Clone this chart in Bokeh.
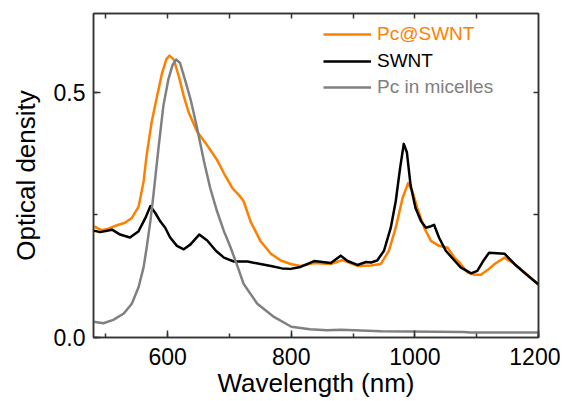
from bokeh.plotting import figure
from bokeh.models import (LinearAxis, SingleIntervalTicker, FixedTicker, Range1d, Legend,
                          LegendItem, PrintfTickFormatter)
from bokeh.embed import file_html
from bokeh.resources import INLINE

# Pc@SWNT
pcswnt_x = [480, 493, 504, 518, 531, 542, 553, 561, 566, 574, 583, 591, 598, 603, 610, 618, 626, 634, 642, 648,
            664, 680, 691, 705, 715, 723, 734, 750, 767, 783, 799, 815, 837, 864, 883, 907, 929, 945, 958, 969,
            980, 989, 996, 1004, 1015, 1026, 1039, 1053, 1064, 1074, 1085, 1097, 1107, 1118, 1129, 1145, 1161,
            1180, 1200]
pcswnt_y = [0.227, 0.219, 0.222, 0.229, 0.234, 0.244, 0.267, 0.318, 0.372, 0.439, 0.493, 0.540, 0.568, 0.575,
            0.567, 0.533, 0.493, 0.459, 0.436, 0.419, 0.392, 0.362, 0.335, 0.304, 0.291, 0.278, 0.237, 0.197,
            0.171, 0.157, 0.150, 0.146, 0.152, 0.150, 0.158, 0.146, 0.147, 0.150, 0.177, 0.224, 0.284, 0.315,
            0.298, 0.264, 0.224, 0.197, 0.187, 0.183, 0.163, 0.150, 0.133, 0.128, 0.128, 0.138, 0.150, 0.163,
            0.150, 0.130, 0.108]

# SWNT
swnt_x = [480, 491, 510, 523, 539, 553, 564, 572, 580, 588, 596, 604, 615, 626, 637, 651, 664, 678, 691, 707,
          729, 750, 767, 785, 799, 815, 837, 864, 880, 891, 907, 921, 929, 939, 950, 961, 969, 976, 982, 987,
          993, 1001, 1010, 1018, 1026, 1031, 1039, 1050, 1064, 1074, 1091, 1101, 1110, 1120, 1145, 1161, 1180,
          1200]
swnt_y = [0.218, 0.215, 0.220, 0.210, 0.204, 0.217, 0.244, 0.268, 0.254, 0.237, 0.224, 0.204, 0.187, 0.180,
          0.190, 0.210, 0.198, 0.177, 0.163, 0.155, 0.155, 0.150, 0.146, 0.141, 0.140, 0.144, 0.156, 0.152,
          0.167, 0.156, 0.148, 0.154, 0.153, 0.157, 0.177, 0.224, 0.278, 0.345, 0.395, 0.378, 0.311, 0.264,
          0.237, 0.224, 0.227, 0.230, 0.204, 0.177, 0.157, 0.143, 0.131, 0.136, 0.155, 0.173, 0.171, 0.150,
          0.129, 0.108]

# Pc in micelles
mic_x = [480, 496, 512, 529, 542, 553, 561, 566, 572, 577, 585, 593, 601, 608, 614, 620, 628, 637, 642, 648,
         659, 669, 680, 691, 702, 713, 723, 745, 772, 800, 830, 858, 880, 945, 1079, 1090, 1200]
mic_y = [0.032, 0.029, 0.036, 0.049, 0.069, 0.103, 0.143, 0.183, 0.237, 0.291, 0.385, 0.472, 0.526, 0.556,
         0.567, 0.560, 0.526, 0.486, 0.459, 0.425, 0.358, 0.304, 0.257, 0.217, 0.183, 0.145, 0.109, 0.069,
         0.042, 0.022, 0.017, 0.015, 0.016, 0.013, 0.011, 0.010, 0.010]

labels = ["Pc@SWNT", "SWNT", "Pc in micelles"]
colors = ["#ff7f00", "#000000", "#808080"]

top_ticks = [500, 600, 700, 800, 900, 1000, 1100]
right_ticks = [0.25, 0.5]

FONT = "Liberation Sans"
AX = "#333333"

p = figure(width=560, height=400, output_backend="svg", toolbar_location=None,
           x_range=Range1d(480, 1200), y_range=Range1d(0, 0.661),
           min_border_left=93, min_border_top=13, min_border_right=22, min_border_bottom=60,
           x_axis_label="Wavelength (nm)", y_axis_label="Optical density")
p.grid.visible = False
p.outline_line_color = AX
p.outline_line_width = 1.5

p.xaxis.ticker = SingleIntervalTicker(interval=200, num_minor_ticks=2)
p.yaxis.ticker = SingleIntervalTicker(interval=0.5, num_minor_ticks=2)
p.yaxis.formatter = PrintfTickFormatter(format="%.1f")


def style(ax):
    ax.axis_line_color = AX
    ax.axis_line_width = 1.5
    ax.major_tick_line_color = AX
    ax.minor_tick_line_color = AX
    ax.major_tick_line_width = 1.5
    ax.minor_tick_line_width = 1.5
    ax.major_tick_in = 7
    ax.major_tick_out = 0
    ax.minor_tick_in = 4
    ax.minor_tick_out = 0
    ax.major_label_text_font = FONT
    ax.major_label_text_color = "#000000"
    ax.major_label_text_font_size = "23px"
    ax.axis_label_text_font = FONT
    ax.axis_label_text_font_style = "normal"
    ax.axis_label_text_color = "#000000"
    ax.axis_label_text_font_size = "26px"


for ax in p.xaxis + p.yaxis:
    style(ax)
p.xaxis.major_label_standoff = 10
p.xaxis.axis_label_standoff = 0
p.yaxis.major_label_standoff = 8
p.yaxis.axis_label_standoff = 10

top = LinearAxis(ticker=FixedTicker(ticks=[], minor_ticks=top_ticks))
right = LinearAxis(ticker=FixedTicker(ticks=[], minor_ticks=right_ticks))
for ax in (top, right):
    style(ax)
    ax.minor_tick_in = 5
    ax.major_label_standoff = 0
p.add_layout(top, "above")
p.add_layout(right, "right")

r1 = p.line(pcswnt_x, pcswnt_y, line_color=colors[0], line_width=2.5, line_join="round")
r2 = p.line(swnt_x, swnt_y, line_color=colors[1], line_width=2.5, line_join="round")
r3 = p.line(mic_x, mic_y, line_color=colors[2], line_width=2.5, line_join="round")

locs = [(230, 292), (230, 265), (230, 239)]
for r, lab, col, loc in zip([r1, r2, r3], labels, colors, locs):
    lg = Legend(items=[LegendItem(label=lab, renderers=[r])], location=loc,
                padding=0, margin=0, border_line_alpha=0, background_fill_alpha=0,
                glyph_width=48, glyph_height=20, label_height=20, label_standoff=6,
                label_text_font=FONT, label_text_font_size="19px", label_text_color=col)
    p.add_layout(lg, "center")

open("out.html", "w").write(file_html(p, INLINE))
